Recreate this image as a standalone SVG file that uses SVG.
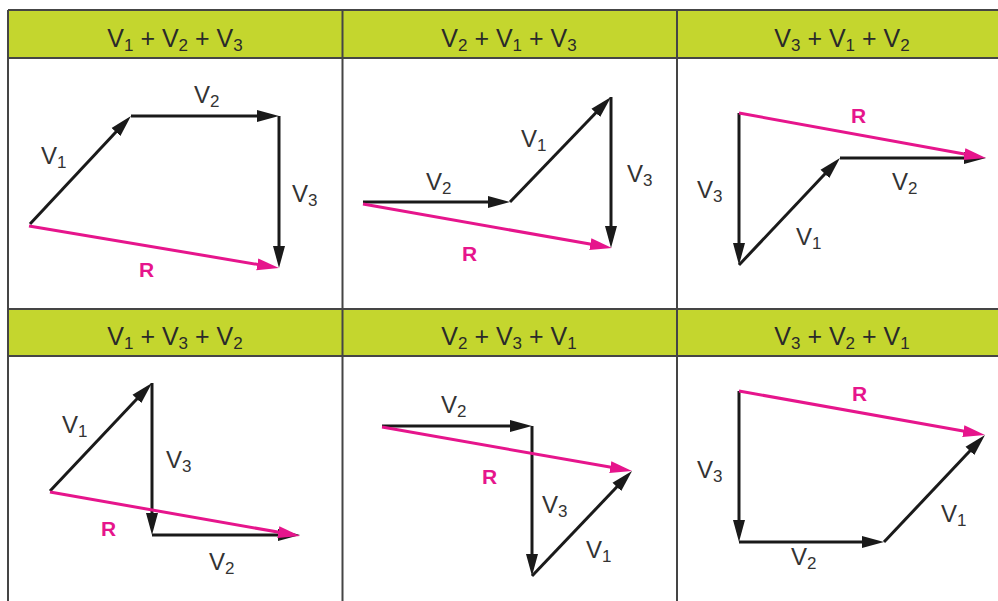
<svg xmlns="http://www.w3.org/2000/svg" width="998" height="601" viewBox="0 0 998 601">
  <style>
    .hdr { fill: #c4d62e; }
    .grid { stroke: #454545; stroke-width: 2; fill: none; }
    .htxt { font-family: "Liberation Sans", Arial, sans-serif; font-size: 25px; fill: #2a2a2a; text-anchor: middle; }
    .lbl { font-family: "Liberation Sans", Arial, sans-serif; font-size: 24px; fill: #333333; }
    .r { font-family: "Liberation Sans", Arial, sans-serif; font-size: 21px; font-weight: bold; fill: #e6158c; }
    .sub { font-size: 17px; }
    .vec { stroke: #1a1a1a; stroke-width: 3; fill: none; marker-end: url(#ah); }
    .res { stroke: #e6158c; stroke-width: 3; fill: none; marker-end: url(#ahr); }
  </style>
  <defs>
    <marker id="ah" markerUnits="userSpaceOnUse" markerWidth="24" markerHeight="14" viewBox="0 -7 24 14" refX="14" refY="0" orient="auto">
      <path d="M0,-6 L22,0 L0,6 z" fill="#1a1a1a"/>
    </marker>
    <marker id="ahr" markerUnits="userSpaceOnUse" markerWidth="24" markerHeight="14" viewBox="0 -7 24 14" refX="14" refY="0" orient="auto">
      <path d="M0,-6 L22,0 L0,6 z" fill="#e6158c"/>
    </marker>
  </defs>
  <rect x="0" y="0" width="998" height="601" fill="#ffffff"/>

  <g id="table">
    <rect class="hdr" x="8" y="10" width="990" height="48"/>
    <rect class="hdr" x="8" y="309" width="990" height="47"/>
    <path class="grid" d="M8,10 H998 M8,58 H998 M8,309 H998 M8,356 H998 M8,10 V601 M342.5,10 V601 M677,10 V601"/>
  </g>

  <g id="connectors">
    <!-- cell 1 -->
    <line class="vec" x1="30" y1="224" x2="125.5" y2="121.8"/>
    <line class="vec" x1="131" y1="116" x2="271" y2="116"/>
    <line class="vec" x1="279" y1="116" x2="279" y2="260"/>
    <line class="res" x1="29" y1="226" x2="271.1" y2="266.7"/>
    <!-- cell 2 -->
    <line class="vec" x1="363" y1="202" x2="502" y2="202"/>
    <line class="vec" x1="510" y1="202" x2="605.5" y2="102.8"/>
    <line class="vec" x1="611" y1="97" x2="611" y2="240"/>
    <line class="res" x1="363" y1="204" x2="604.1" y2="246.6"/>
    <!-- cell 3 -->
    <line class="vec" x1="739" y1="113" x2="739" y2="257"/>
    <line class="vec" x1="739" y1="265" x2="834.5" y2="163.8"/>
    <line class="vec" x1="840" y1="158" x2="978" y2="158"/>
    <line class="res" x1="739" y1="113" x2="978.1" y2="156.6"/>
    <!-- cell 4 -->
    <line class="vec" x1="50" y1="491" x2="146.5" y2="388.8"/>
    <line class="vec" x1="152" y1="383" x2="152" y2="527"/>
    <line class="vec" x1="152" y1="535" x2="292" y2="535"/>
    <line class="res" x1="50" y1="492" x2="292.1" y2="534.6"/>
    <!-- cell 5 -->
    <line class="vec" x1="382" y1="426" x2="524" y2="426"/>
    <line class="vec" x1="532" y1="426" x2="532" y2="568"/>
    <line class="vec" x1="532" y1="576" x2="626.5" y2="476.8"/>
    <line class="res" x1="382" y1="427" x2="624.1" y2="469.6"/>
    <!-- cell 6 -->
    <line class="vec" x1="739" y1="391" x2="739" y2="534"/>
    <line class="vec" x1="739" y1="542" x2="876" y2="542"/>
    <line class="vec" x1="884" y1="542" x2="979.5" y2="440.8"/>
    <line class="res" x1="739" y1="391" x2="977.1" y2="433.6"/>
  </g>

  <g id="cell-v1-v2-v3">
    <text class="htxt" x="175" y="47">V<tspan class="sub" dy="4">1</tspan><tspan dy="-4"> + V</tspan><tspan class="sub" dy="4">2</tspan><tspan dy="-4"> + V</tspan><tspan class="sub" dy="4">3</tspan></text>
    <text class="lbl" x="41" y="164">V<tspan class="sub" dy="4">1</tspan></text>
    <text class="lbl" x="194" y="103">V<tspan class="sub" dy="4">2</tspan></text>
    <text class="lbl" x="292" y="202">V<tspan class="sub" dy="4">3</tspan></text>
    <text class="r" x="139" y="277">R</text>
  </g>

  <g id="cell-v2-v1-v3">
    <text class="htxt" x="509" y="47">V<tspan class="sub" dy="4">2</tspan><tspan dy="-4"> + V</tspan><tspan class="sub" dy="4">1</tspan><tspan dy="-4"> + V</tspan><tspan class="sub" dy="4">3</tspan></text>
    <text class="lbl" x="426" y="190">V<tspan class="sub" dy="4">2</tspan></text>
    <text class="lbl" x="521" y="147">V<tspan class="sub" dy="4">1</tspan></text>
    <text class="lbl" x="627" y="182">V<tspan class="sub" dy="4">3</tspan></text>
    <text class="r" x="462" y="261">R</text>
  </g>

  <g id="cell-v3-v1-v2">
    <text class="htxt" x="842" y="47">V<tspan class="sub" dy="4">3</tspan><tspan dy="-4"> + V</tspan><tspan class="sub" dy="4">1</tspan><tspan dy="-4"> + V</tspan><tspan class="sub" dy="4">2</tspan></text>
    <text class="r" x="851" y="123">R</text>
    <text class="lbl" x="892" y="190">V<tspan class="sub" dy="4">2</tspan></text>
    <text class="lbl" x="697" y="198">V<tspan class="sub" dy="4">3</tspan></text>
    <text class="lbl" x="796" y="245">V<tspan class="sub" dy="4">1</tspan></text>
  </g>

  <g id="cell-v1-v3-v2">
    <text class="htxt" x="175" y="345">V<tspan class="sub" dy="4">1</tspan><tspan dy="-4"> + V</tspan><tspan class="sub" dy="4">3</tspan><tspan dy="-4"> + V</tspan><tspan class="sub" dy="4">2</tspan></text>
    <text class="lbl" x="62" y="433">V<tspan class="sub" dy="4">1</tspan></text>
    <text class="lbl" x="166" y="468">V<tspan class="sub" dy="4">3</tspan></text>
    <text class="r" x="101" y="536">R</text>
    <text class="lbl" x="209" y="570">V<tspan class="sub" dy="4">2</tspan></text>
  </g>

  <g id="cell-v2-v3-v1">
    <text class="htxt" x="509" y="345">V<tspan class="sub" dy="4">2</tspan><tspan dy="-4"> + V</tspan><tspan class="sub" dy="4">3</tspan><tspan dy="-4"> + V</tspan><tspan class="sub" dy="4">1</tspan></text>
    <text class="lbl" x="441" y="413">V<tspan class="sub" dy="4">2</tspan></text>
    <text class="r" x="482" y="484">R</text>
    <text class="lbl" x="542" y="513">V<tspan class="sub" dy="4">3</tspan></text>
    <text class="lbl" x="586" y="558">V<tspan class="sub" dy="4">1</tspan></text>
  </g>

  <g id="cell-v3-v2-v1">
    <text class="htxt" x="842" y="345">V<tspan class="sub" dy="4">3</tspan><tspan dy="-4"> + V</tspan><tspan class="sub" dy="4">2</tspan><tspan dy="-4"> + V</tspan><tspan class="sub" dy="4">1</tspan></text>
    <text class="r" x="852" y="401">R</text>
    <text class="lbl" x="697" y="478">V<tspan class="sub" dy="4">3</tspan></text>
    <text class="lbl" x="941" y="522">V<tspan class="sub" dy="4">1</tspan></text>
    <text class="lbl" x="791" y="565">V<tspan class="sub" dy="4">2</tspan></text>
  </g>
</svg>
